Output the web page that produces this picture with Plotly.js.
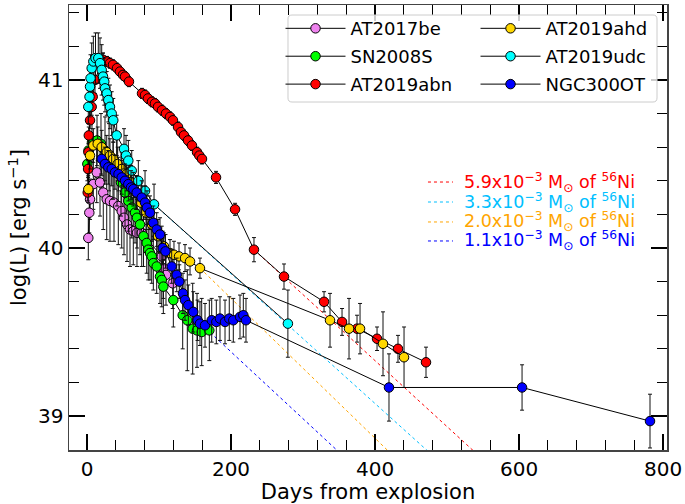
<!DOCTYPE html>
<html><head><meta charset="utf-8">
<script src="https://cdn.plot.ly/plotly-3.0.1.min.js"></script>
<style>html,body{margin:0;padding:0;background:#fff}</style>
</head><body><div id="chart" style="width:685px;height:504px"></div>
<script>
// ---- AT2017be ----
const at2017be_day  = [1.8, 3.2, 4.2, 8.8, 13.5, 18.1, 22.6, 27.4, 31.9, 37.5, 43.5, 48.2, 51.4, 55.6, 59.7, 64.3, 69.4, 76.0, 103.8, 106.0, 109.7, 119.0];
const at2017be_logL = [40.06, 40.21, 40.29, 40.38, 40.45, 40.39, 40.33, 40.29, 40.28, 40.27, 40.25, 40.22, 40.18, 40.14, 40.11, 40.10, 40.09, 40.09, 39.95, 39.88, 39.84, 39.79];
const at2017be_err  = [0.13, 0.12, 0.12, 0.15, 0.18, 0.20, 0.22, 0.24, 0.24, 0.23, 0.23, 0.22, 0.22, 0.22, 0.22, 0.20, 0.20, 0.20, 0.18, 0.18, 0.18, 0.15];
// ---- SN2008S ----
const sn2008s_day  = [0.5, 2.1, 6.9, 13.9, 19.4, 25.0, 30.6, 36.1, 41.7, 47.2, 52.8, 57.4, 62.1, 66.7, 69.4, 73.6, 78.5, 82.9, 85.1, 87.5, 89.9, 92.1, 96.8, 101.4, 103.8, 106.0, 119.9, 132.9, 139.3, 146.8, 152.8, 159.3, 169.9];
const sn2008s_logL = [40.50, 40.58, 40.63, 40.64, 40.62, 40.58, 40.54, 40.49, 40.45, 40.39, 40.33, 40.28, 40.24, 40.21, 40.18, 40.14, 40.07, 40.03, 39.99, 39.97, 39.95, 39.91, 39.89, 39.83, 39.81, 39.77, 39.69, 39.60, 39.57, 39.52, 39.51, 39.50, 39.51];
const sn2008s_err  = [0.10, 0.10, 0.12, 0.15, 0.18, 0.20, 0.20, 0.20, 0.20, 0.20, 0.20, 0.18, 0.18, 0.18, 0.18, 0.18, 0.18, 0.18, 0.18, 0.16, 0.16, 0.16, 0.16, 0.16, 0.16, 0.16, 0.16, 0.20, 0.30, 0.27, 0.22, 0.20, 0.18];
// ---- AT2019abn ----
const at2019abn_day  = [1.0, 1.5, 2.0, 2.5, 4.2, 6.5, 7.9, 11.1, 22.2, 27.8, 31.9, 36.1, 41.7, 45.8, 50.0, 52.8, 58.3, 76.4, 80.6, 84.7, 90.3, 94.4, 98.6, 104.2, 109.7, 115.3, 119.4, 126.4, 130.5, 134.7, 140.3, 145.8, 152.8, 156.0, 159.7, 179.2, 205.6, 231.9, 273.6, 329.2, 354.2, 375.0, 402.8, 431.9, 470.8];
const at2019abn_logL = [40.33, 40.47, 40.57, 40.67, 40.76, 40.84, 40.90, 41.00, 41.12, 41.11, 41.10, 41.09, 41.07, 41.05, 41.03, 41.02, 40.99, 40.92, 40.91, 40.89, 40.87, 40.86, 40.84, 40.82, 40.80, 40.78, 40.76, 40.72, 40.69, 40.67, 40.64, 40.61, 40.57, 40.55, 40.53, 40.42, 40.23, 39.99, 39.83, 39.68, 39.56, 39.52, 39.46, 39.40, 39.32];
const at2019abn_err  = [0.05, 0.05, 0.05, 0.05, 0.05, 0.05, 0.06, 0.08, 0.04, 0.03, 0.03, 0.03, 0.03, 0.03, 0.03, 0.03, 0.03, 0.03, 0.03, 0.03, 0.03, 0.03, 0.03, 0.03, 0.03, 0.03, 0.03, 0.03, 0.03, 0.03, 0.03, 0.03, 0.03, 0.03, 0.03, 0.036, 0.036, 0.072, 0.075, 0.06, 0.08, 0.08, 0.07, 0.08, 0.09];
// ---- AT2019ahd ----
const at2019ahd_day  = [1.8, 4.2, 8.8, 14.9, 20.4, 27.4, 31.9, 36.5, 42.6, 48.2, 55.1, 61.1, 68.1, 75.0, 81.9, 90.3, 98.6, 106.9, 115.3, 120.8, 127.8, 136.1, 143.1, 156.9, 337.5, 363.9, 379.2, 411.1, 440.3];
const at2019ahd_logL = [40.35, 40.55, 40.61, 40.62, 40.60, 40.57, 40.55, 40.53, 40.50, 40.47, 40.44, 40.39, 40.33, 40.27, 40.21, 40.14, 40.07, 40.01, 39.97, 39.96, 39.95, 39.94, 39.92, 39.88, 39.57, 39.52, 39.52, 39.43, 39.35];
const at2019ahd_err  = [0.08, 0.08, 0.10, 0.10, 0.10, 0.10, 0.10, 0.10, 0.10, 0.10, 0.10, 0.10, 0.10, 0.10, 0.10, 0.10, 0.10, 0.08, 0.08, 0.08, 0.08, 0.08, 0.08, 0.06, 0.16, 0.18, 0.15, 0.19, 0.18];
// ---- AT2019udc ----
const at2019udc_day  = [1.8, 3.5, 4.2, 4.9, 6.5, 8.8, 11.8, 15.7, 18.1, 20.4, 22.2, 24.0, 25.0, 27.4, 29.6, 31.9, 34.3, 36.5, 41.2, 51.4, 54.2, 57.4, 62.1, 71.3, 80.6, 93.1, 279.0];
const at2019udc_logL = [40.84, 40.90, 40.96, 41.01, 41.07, 41.11, 41.13, 41.13, 41.10, 41.06, 41.02, 40.99, 40.95, 40.92, 40.88, 40.84, 40.80, 40.76, 40.67, 40.59, 40.55, 40.52, 40.46, 40.40, 40.34, 40.26, 39.55];
const at2019udc_err  = [0.10, 0.12, 0.12, 0.14, 0.15, 0.15, 0.15, 0.15, 0.15, 0.15, 0.14, 0.14, 0.14, 0.13, 0.13, 0.13, 0.13, 0.13, 0.12, 0.12, 0.12, 0.12, 0.12, 0.12, 0.12, 0.12, 0.20];
// ---- NGC300OT ----
const ngc300ot_day  = [20.4, 25.0, 29.6, 34.3, 38.9, 43.8, 48.2, 52.8, 57.4, 61.1, 64.3, 69.0, 76.0, 80.6, 83.3, 87.5, 92.1, 96.8, 101.4, 105.1, 109.0, 117.6, 124.6, 128.2, 133.3, 136.1, 140.7, 147.6, 153.5, 156.9, 163.9, 173.2, 179.6, 184.7, 191.7, 197.6, 203.2, 212.5, 217.1, 220.8, 419.4, 604.2, 781.9];
const ngc300ot_logL = [40.53, 40.50, 40.48, 40.47, 40.45, 40.44, 40.42, 40.40, 40.38, 40.36, 40.35, 40.33, 40.30, 40.27, 40.24, 40.21, 40.15, 40.11, 40.08, 40.00, 39.98, 39.89, 39.84, 39.80, 39.73, 39.69, 39.66, 39.62, 39.57, 39.55, 39.54, 39.57, 39.56, 39.58, 39.56, 39.58, 39.57, 39.59, 39.60, 39.57, 39.17, 39.17, 38.97];
const ngc300ot_err  = [0.10, 0.10, 0.10, 0.10, 0.10, 0.10, 0.10, 0.10, 0.10, 0.10, 0.10, 0.10, 0.10, 0.10, 0.10, 0.10, 0.10, 0.10, 0.10, 0.10, 0.10, 0.10, 0.10, 0.10, 0.12, 0.12, 0.12, 0.12, 0.12, 0.13, 0.13, 0.13, 0.13, 0.13, 0.13, 0.13, 0.13, 0.13, 0.13, 0.13, 0.20, 0.135, 0.16];
// ---- 56Ni model lines (start, end) ----
const niRed_day = [231.9, 540.0],  niRed_logL = [39.99, 38.78];
const niCyan_day = [93.1, 475.0],  niCyan_logL = [40.26, 38.785];
const niOrange_day = [156.9, 420.0], niOrange_logL = [39.88, 38.785];
const niBlue_day = [152.8, 350.0], niBlue_logL = [39.57, 38.785];
const niLabels = ['5.9', '3.3', '2.0', '1.1'];
const niColors = ['#FF0000', '#00BFFF', '#FFA500', '#0000FF'];

const FONT = 'DejaVu Sans, Liberation Sans, sans-serif';
function series(name, x, y, e, color, legend) {
  return {
    type: 'scatter', mode: 'lines+markers', name: name, x: x, y: y,
    legend: legend, legendgroup: name,
    line: {color: 'black', width: 1},
    marker: {color: color, size: 9.5, line: {color: 'black', width: 1}},
    error_y: {type: 'data', array: e, visible: true, color: '#111', thickness: 1, width: 2},
    hoverinfo: 'skip'
  };
}
function niLine(x, y, color) {
  return {
    type: 'scatter', mode: 'lines', x: x, y: y, showlegend: false,
    line: {color: color, width: 1, dash: 'dot'}, hoverinfo: 'skip'
  };
}
const data = [
  niLine(niRed_day, niRed_logL, niColors[0]),
  niLine(niCyan_day, niCyan_logL, niColors[1]),
  niLine(niOrange_day, niOrange_logL, niColors[2]),
  niLine(niBlue_day, niBlue_logL, niColors[3]),
  series('AT2017be', at2017be_day, at2017be_logL, at2017be_err, '#EE82EE', 'legend'),
  series('SN2008S', sn2008s_day, sn2008s_logL, sn2008s_err, '#00FF00', 'legend'),
  series('AT2019abn', at2019abn_day, at2019abn_logL, at2019abn_err, '#FF0000', 'legend'),
  series('AT2019ahd', at2019ahd_day, at2019ahd_logL, at2019ahd_err, '#FFD700', 'legend2'),
  series('AT2019udc', at2019udc_day, at2019udc_logL, at2019udc_err, '#00FFFF', 'legend2'),
  series('NGC300OT', ngc300ot_day, ngc300ot_logL, ngc300ot_err, '#0000FF', 'legend2')
];
const axisCommon = {
  showgrid: false, zeroline: false, showline: true, linecolor: '#444', linewidth: 1.5,
  mirror: 'allticks', ticks: 'inside', ticklen: 16, tickwidth: 2, tickcolor: 'black',
  tickfont: {family: FONT, size: 20, color: 'black'}
};
const legCommon = {
  bgcolor: 'rgba(0,0,0,0)', borderwidth: 0, xanchor: 'left', yanchor: 'top',
  font: {family: FONT, size: 18, color: 'black'}, tracegroupgap: 1.5, itemwidth: 60
};
// Ni labels as annotations + dotted legend strokes
const niRowsY = [0.6022, 0.5573, 0.5124, 0.4697];
const annotations = niLabels.map((lab, i) => ({
  xref: 'paper', yref: 'paper', x: 0.6572, y: niRowsY[i], xanchor: 'left', yanchor: 'middle',
  showarrow: false,
  text: lab + 'x10<sup>−3</sup> M<sub>⊙</sub> of <sup>56</sup>Ni',
  font: {family: FONT, size: 17.5, color: niColors[i]}
}));
const shapes = niColors.map((c, i) => ({
  type: 'line', xref: 'paper', yref: 'paper', x0: 0.6003, x1: 0.6421, y0: niRowsY[i], y1: niRowsY[i],
  line: {color: c, width: 1, dash: 'dot'}
}));
// rounded legend frame
(function () {
  const x0 = 0.3662, x1 = 0.9833, y0 = 0.782, y1 = 0.9775, rx = 0.0067, ry = 0.009;
  shapes.push({
    type: 'path', xref: 'paper', yref: 'paper', layer: 'above',
    path: `M${x0 + rx},${y0} L${x1 - rx},${y0} Q${x1},${y0} ${x1},${y0 + ry} L${x1},${y1 - ry} Q${x1},${y1} ${x1 - rx},${y1} L${x0 + rx},${y1} Q${x0},${y1} ${x0},${y1 - ry} L${x0},${y0 + ry} Q${x0},${y0} ${x0 + rx},${y0} Z`,
    line: {color: '#cccccc', width: 1}, fillcolor: 'rgba(255,255,255,0.8)'
  });
})();
const layout = {
  width: 685, height: 504,
  margin: {l: 69, r: 18, t: 5, b: 54},
  paper_bgcolor: 'white', plot_bgcolor: 'white',
  font: {family: FONT, color: 'black'},
  showlegend: true,
  xaxis: Object.assign({}, axisCommon, {
    range: [-25, 805.5], tick0: 0, dtick: 200,
    minor: {dtick: 40, ticks: 'inside', ticklen: 10, tickwidth: 1.2, tickcolor: 'black'},
    title: {text: 'Days from explosion', font: {family: FONT, size: 21, color: 'black'}, standoff: 8}
  }),
  yaxis: Object.assign({}, axisCommon, {
    range: [38.798, 41.446], tick0: 39, dtick: 1,
    minor: {dtick: 0.2, ticks: 'inside', ticklen: 10, tickwidth: 1.2, tickcolor: 'black'},
    title: {text: 'log(L) [erg s<sup>−1</sup>]', font: {family: FONT, size: 21, color: 'black'}, standoff: 5}
  }),
  legend: Object.assign({}, legCommon, {x: 0.3537, y: 0.9885}),
  legend2: Object.assign({}, legCommon, {x: 0.6798, y: 0.9885}),
  annotations: annotations,
  shapes: shapes
};
Plotly.newPlot('chart', data, layout, {staticPlot: true, displayModeBar: false});
</script>
</body></html>
